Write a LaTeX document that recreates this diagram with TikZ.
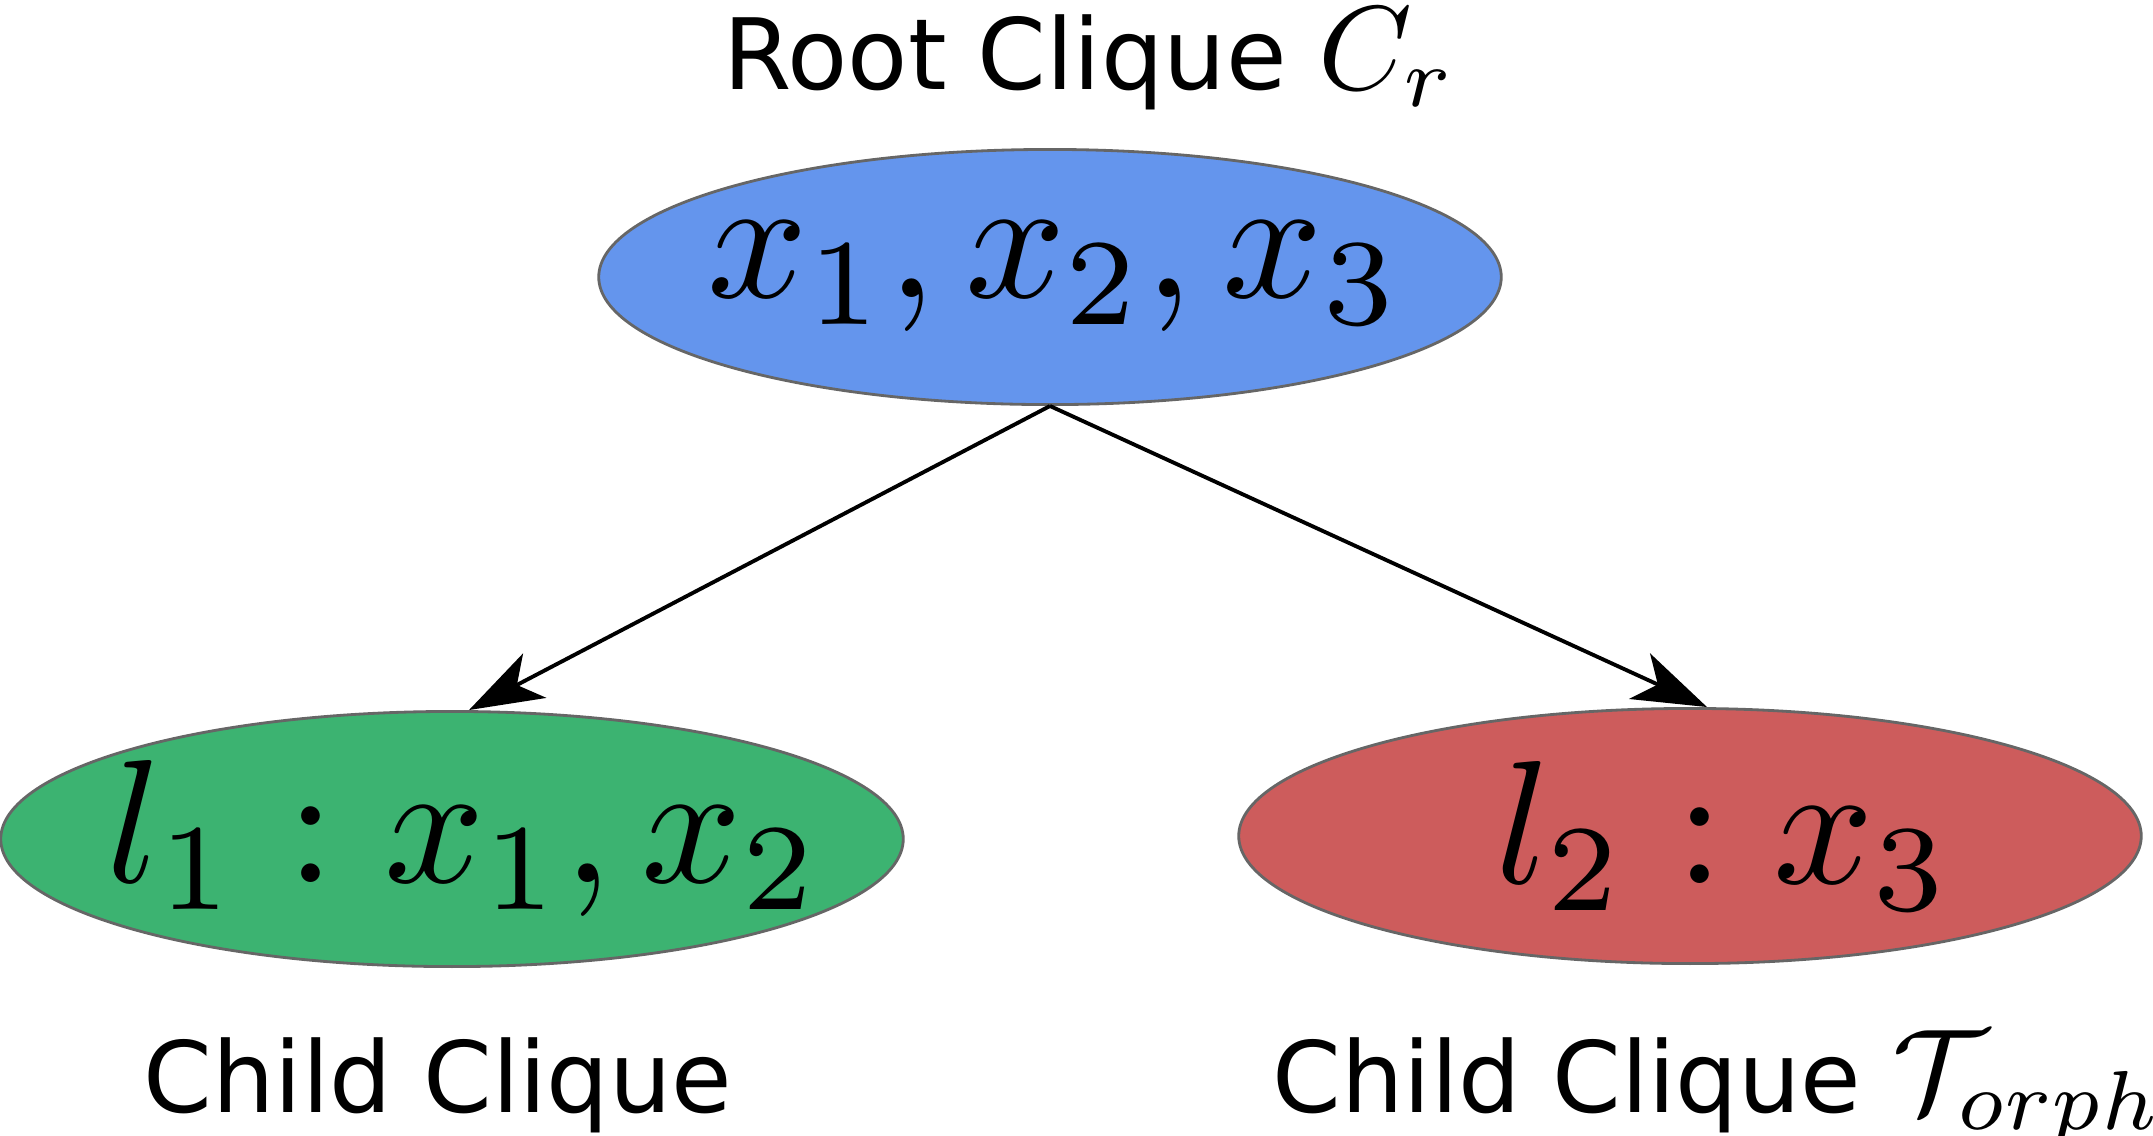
\documentclass[tikz,border=0pt]{standalone}
\usepackage{graphicx}
\usepackage{fontspec}
\setmainfont{DejaVu Sans}
\usetikzlibrary{shapes.geometric, arrows.meta}
\definecolor{rootblue}{HTML}{6495ED}
\definecolor{childgreen}{HTML}{3CB371}
\definecolor{childred}{HTML}{CD5C5C}
\definecolor{cliqueedge}{HTML}{666666}
\newcommand{\bigmath}[1]{\scalebox{5}{\fontsize{10}{12}\selectfont$#1$}}
\newcommand{\capmath}[1]{\scalebox{3.4}{\fontsize{10}{12}\selectfont$#1$}}

\begin{document}
\begin{tikzpicture}[x=0.01cm, y=-0.01cm,
  clique/.style={draw=cliqueedge, line width=0.8pt, ellipse, inner sep=0pt,
    minimum width=9.02cm, minimum height=2.55cm},
  caption/.style={font=\fontsize{28}{34}\selectfont, anchor=base},
  link/.style={-{Stealth[length=0.74cm, width=0.5cm, inset=0.2cm]}, line width=1.1pt}]
\useasboundingbox (0,0) rectangle (2153,1135);
\node (root) [clique, fill=rootblue, label={[xshift=0.05cm]center:{\bigmath{x_1, x_2, x_3}}}] at (1050,277) {};
\node (left) [clique, fill=childgreen, label={[xshift=0.12cm]center:{\bigmath{l_1 : x_1, x_2}}}] at (452,839) {};
\node (right) [clique, fill=childred, label={[xshift=0.34cm]center:{\bigmath{l_2 : x_3}}}] at (1690,836) {};
\node (roottxt) [caption] at (1090,89) {Root Clique \capmath{C_r}};
\node (lefttxt) [caption] at (438,1112) {Child Clique};
\node (righttxt) [caption] at (1718,1112) {Child Clique \capmath{\mathcal{T}_{orph}}};
\draw[link] (root.south) -- ([xshift=0.17cm]left.north);
\draw[link] (root.south) -- ([xshift=0.17cm]right.north);
\end{tikzpicture}
\end{document}
